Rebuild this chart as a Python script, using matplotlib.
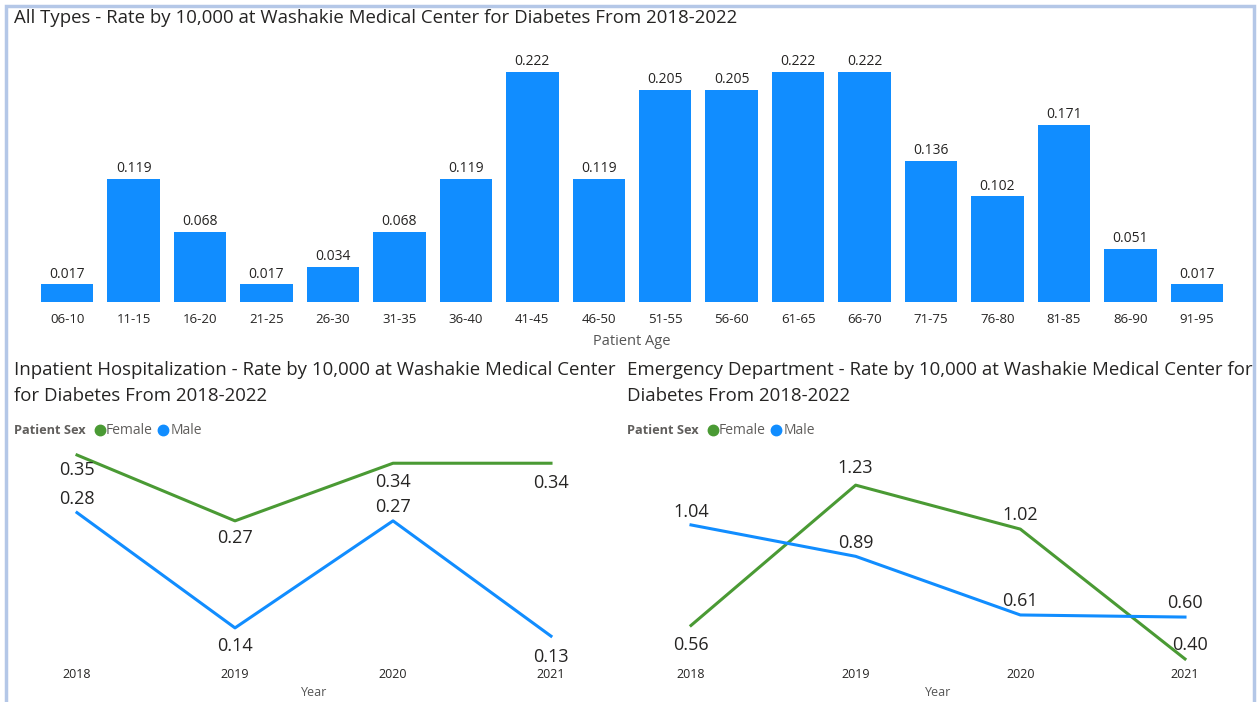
import matplotlib.pyplot as plt
from matplotlib.patches import Rectangle
from matplotlib.lines import Line2D

plt.rcParams['font.family'] = ['Open Sans', 'DejaVu Sans']

# ---- data ----
age_groups = ["06-10", "11-15", "16-20", "21-25", "26-30", "31-35", "36-40", "41-45", "46-50",
              "51-55", "56-60", "61-65", "66-70", "71-75", "76-80", "81-85", "86-90", "91-95"]
all_rates = [0.017, 0.119, 0.068, 0.017, 0.034, 0.068, 0.119, 0.222, 0.119,
             0.205, 0.205, 0.222, 0.222, 0.136, 0.102, 0.171, 0.051, 0.017]

years = [2018, 2019, 2020, 2021]
inp_female = [0.35, 0.27, 0.34, 0.34]
inp_male = [0.28, 0.14, 0.27, 0.13]
ed_female = [0.56, 1.23, 1.02, 0.40]
ed_male = [1.04, 0.89, 0.61, 0.60]

BLUE = "#118DFF"
GREEN = "#4A9A34"
TXT = "#252423"
W, H = 1257, 702

fig = plt.figure(figsize=(W / 100, H / 100), dpi=100)


def px_axes(x0, y0, x1, y1):
    # pixel box (top-left origin) -> figure axes
    return fig.add_axes([x0 / W, 1 - y1 / H, (x1 - x0) / W, (y1 - y0) / H])


# outer border
fig.patches.append(Rectangle((6 / W, -0.01), 1248 / W, 1 - 6 / H + 0.01,
                             transform=fig.transFigure, fill=False,
                             edgecolor="#B4C7E7", linewidth=2.5))

# ---- top bar chart ----
ax = px_axes(34, 45, 1230, 302)
x = range(len(age_groups))
ax.bar(x, all_rates, width=0.79, color=BLUE)
for xi, v in zip(x, all_rates):
    ax.annotate(f"{v:.3f}", (xi, v), xytext=(0, 2), textcoords="offset points",
                ha="center", va="bottom", fontsize=10, color=TXT)
ax.set_xlim(-0.5, len(age_groups) - 0.5)
ax.set_ylim(0, 0.248)
ax.set_xticks(list(x))
ax.set_xticklabels(age_groups, fontsize=9.5, color=TXT)
ax.tick_params(axis="x", length=0, pad=8)
ax.set_yticks([])
for s in ax.spines.values():
    s.set_visible(False)
ax.set_xlabel("Patient Age", fontsize=10.5, color="#555555", labelpad=6)

fig.text(14 / W, 1 - 18 / H, "All Types - Rate by 10,000 at Washakie Medical Center for Diabetes From 2018-2022",
         fontsize=13.4, color=TXT, va="center", ha="left")


def line_panel(x0, x1, ytop, ybot, ylim, female, male, f_off, m_off, title_x, title):
    a = px_axes(x0, ytop, x1, ybot)
    a.plot(years, female, color=GREEN, lw=2.2, clip_on=False)
    a.plot(years, male, color=BLUE, lw=2.2, clip_on=False)
    for yr, v, off in zip(years, female, f_off):
        a.annotate(f"{v:.2f}", (yr, v), xytext=off, textcoords="offset pixels",
                   ha="center", va="center", fontsize=13, color=TXT)
    for yr, v, off in zip(years, male, m_off):
        a.annotate(f"{v:.2f}", (yr, v), xytext=off, textcoords="offset pixels",
                   ha="center", va="center", fontsize=13, color=TXT)
    a.set_xlim(2018, 2021)
    a.set_ylim(*ylim)
    a.set_xticks(years)
    a.set_xticklabels([str(y) for y in years], fontsize=9, color=TXT)
    a.tick_params(axis="x", length=0, pad=6)
    a.set_yticks([])
    for s in a.spines.values():
        s.set_visible(False)
    a.set_xlabel("Year", fontsize=9, color="#555555", labelpad=3)

    fig.text(title_x / W, 1 - 370 / H, title[0], fontsize=13.4, color=TXT, va="center")
    fig.text(title_x / W, 1 - 396 / H, title[1], fontsize=13.4, color=TXT, va="center")
    # legend
    ly = 1 - 430 / H
    fig.text(title_x / W, ly, "Patient Sex", fontsize=9.2, fontweight="bold", color="#605E5C", va="center")
    fig.add_artist(Line2D([(title_x + 86) / W], [ly], marker="o", markersize=7.5,
                          color=GREEN, linestyle="none", transform=fig.transFigure))
    fig.text((title_x + 92) / W, ly, "Female", fontsize=10, color="#605E5C", va="center")
    fig.add_artist(Line2D([(title_x + 149) / W], [ly], marker="o", markersize=7.5,
                          color=BLUE, linestyle="none", transform=fig.transFigure))
    fig.text((title_x + 157) / W, ly, "Male", fontsize=10, color="#605E5C", va="center")


line_panel(77, 551, 448, 660, (0.101, 0.3585), inp_female, inp_male,
           [(0, -15), (0, -17), (0, -19), (0, -20)],
           [(0, 14), (0, -18), (0, 14), (0, -21)],
           14, ["Inpatient Hospitalization - Rate by 10,000 at Washakie Medical Center",
                "for Diabetes From 2018-2022"])

line_panel(691, 1185, 460, 660, (0.395, 1.35), ed_female, ed_male,
           [(0, -20), (0, 17), (0, 14), (5, 14)],
           [(0, 13), (0, 13), (0, 14), (0, 14)],
           627, ["Emergency Department - Rate by 10,000 at Washakie Medical Center for",
                 "Diabetes From 2018-2022"])

fig.savefig("out.png", dpi=100)
